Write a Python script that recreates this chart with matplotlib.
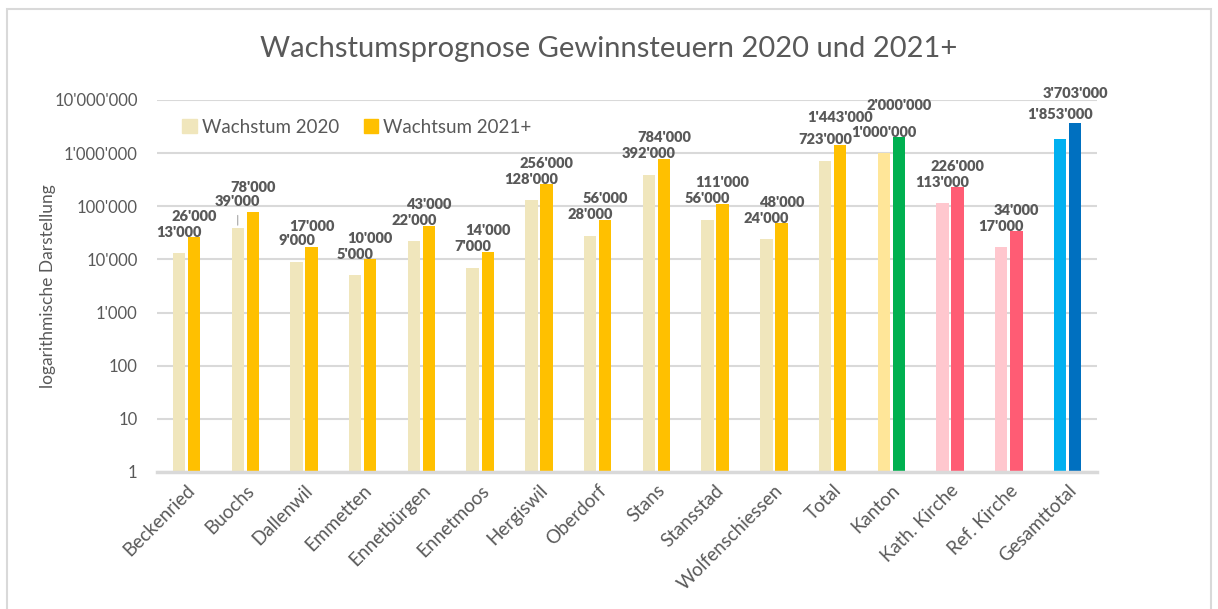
import matplotlib
matplotlib.use("Agg")
import matplotlib.pyplot as plt
from matplotlib.patches import Rectangle
from matplotlib.ticker import FixedLocator, FuncFormatter, NullLocator
import numpy as np

categories = [
    "Beckenried", "Buochs", "Dallenwil", "Emmetten", "Ennetbürgen", "Ennetmoos",
    "Hergiswil", "Oberdorf", "Stans", "Stansstad", "Wolfenschiessen", "Total",
    "Kanton", "Kath. Kirche", "Ref. Kirche", "Gesamttotal",
]
wachstum_2020 = [13000, 39000, 9000, 5000, 22000, 7000, 128000, 28000,
                 392000, 56000, 24000, 723000, 1000000, 113000, 17000, 1853000]
wachstum_2021 = [26000, 78000, 17000, 10000, 43000, 14000, 256000, 56000,
                 784000, 111000, 48000, 1443000, 2000000, 226000, 34000, 3703000]
series_names = ["Wachstum 2020", "Wachtsum 2021+"]
y_ticks = [1, 10, 100, 1000, 10000, 100000, 1000000, 10000000]

# colours per category (light = 2020, strong = 2021+)
beige, gold = "#F0E6BC", "#FFC000"
colors_2020 = [beige] * 12 + ["#FFE699", "#FFC7CE", "#FFC7CE", "#00B0F0"]
colors_2021 = [gold] * 12 + ["#00B050", "#FF5C74", "#FF5C74", "#0070C0"]

# labels that were pushed up by hand in the original (offset in points)
label_lift = {(0, 1): 18.7, (1, 1): 17.3, (1, 11): 19.2, (1, 12): 22.7,
              (0, 15): 17.3, (1, 15): 21.3}

TEXT = "#595959"
GRID = "#D9D9D9"
plt.rcParams["font.family"] = ["Lato", "DejaVu Sans"]


def swiss(v, pos=None):
    return f"{int(v):,}".replace(",", "'")


fig = plt.figure(figsize=(12.18, 6.09), dpi=100)
fig.patches.append(Rectangle((0.006, -0.01), 0.988, 0.995, transform=fig.transFigure,
                             fill=False, edgecolor=GRID, linewidth=1.5))
ax = fig.add_axes([0.129, 0.225, 0.7716, 0.611])

x = np.arange(len(categories))
w = 0.21
off = 0.128
b1 = ax.bar(x - off, wachstum_2020, w, color=colors_2020, zorder=2)
b2 = ax.bar(x + off, wachstum_2021, w, color=colors_2021, zorder=2)

ax.set_yscale("log")
ax.set_ylim(1, 1e7)
ax.set_xlim(-0.5, len(categories) - 0.5)
ax.yaxis.set_major_locator(FixedLocator(y_ticks))
ax.yaxis.set_minor_locator(NullLocator())
ax.yaxis.set_major_formatter(FuncFormatter(swiss))
ax.grid(axis="y", color=GRID, linewidth=1.5, zorder=0)
for s in ["top", "right", "left"]:
    ax.spines[s].set_visible(False)
ax.spines["bottom"].set_color(GRID)
ax.spines["bottom"].set_linewidth(2.5)
ax.tick_params(axis="both", length=0, colors=TEXT)
ax.tick_params(axis="y", pad=14, labelsize=12)
ax.tick_params(axis="x", labelsize=13.5, pad=7)
ax.set_xticks(x)
ax.set_xticklabels(categories, rotation=45, ha="right", rotation_mode="anchor")

ax.set_ylabel("logarithmische Darstellung", color=TEXT, fontsize=12.5)
ax.yaxis.set_label_coords(-0.108, 0.5)
fig.text(0.5, 0.92, "Wachstumsprognose Gewinnsteuern 2020 und 2021+",
         ha="center", va="center", fontsize=21, color=TEXT)

for si, (xs, vals) in enumerate([(x - off, wachstum_2020), (x + off, wachstum_2021)]):
    for ci, (xi, v) in enumerate(zip(xs, vals)):
        dy = label_lift.get((si, ci), 15)
        ax.annotate(swiss(v), (xi, v), xytext=(0, dy), textcoords="offset points",
                    ha="center", va="center", fontsize=10.5, fontweight="heavy",
                    color=TEXT, zorder=3)

# leader line on Buochs 2020 label
ax.annotate("", (1 - off, wachstum_2020[1]), xytext=(0, 11), textcoords="offset points",
            arrowprops=dict(arrowstyle="-", color="#A6A6A6", lw=0.8))

leg = ax.legend([b1[0], b2[0]], series_names, loc="upper left",
                bbox_to_anchor=(0.009, 0.995), ncol=2, frameon=False, fontsize=13.5,
                handlelength=0.75, handleheight=0.75, handletextpad=0.3, columnspacing=1.3)
for t in leg.get_texts():
    t.set_color(TEXT)
leg.legend_handles[0].set_color(beige)
leg.legend_handles[1].set_color(gold)

fig.savefig("out.png", dpi=100)
